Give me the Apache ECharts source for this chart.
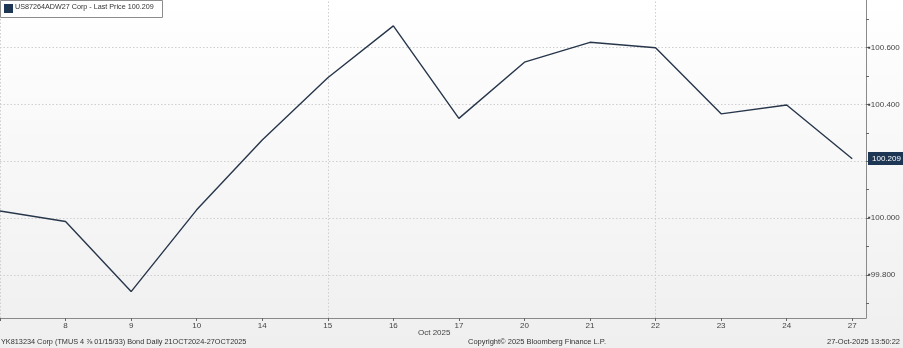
<!DOCTYPE html>
<html>
<head>
<meta charset="utf-8">
<script src="https://cdn.jsdelivr.net/npm/echarts@6/dist/echarts.min.js"></script>
<style>
html,body{margin:0;padding:0;}
#c{width:903px;height:348px;}
</style>
</head>
<body>
<div id="c"></div>
<script>
var categories = ['7','8','9','10','14','15','16','17','20','21','22','23','24','27'];
var prices = [100.025, 99.988, 99.741, 100.029, 100.275, 100.494, 100.677, 100.351, 100.549, 100.619, 100.600, 100.367, 100.398, 100.209];
var yLabelTicks = [99.8, 100.0, 100.4, 100.6];
var yMinorTicks = [99.7, 99.8, 99.9, 100.0, 100.1, 100.2, 100.3, 100.4, 100.5, 100.6, 100.7];
var yGridValues = [99.8, 100.0, 100.2, 100.4, 100.6];
var xGridIndices = [0, 5, 10];
var lastPrice = 100.209;
var legendText = 'US87264ADW27 Corp - Last Price 100.209';
var footerLeft = 'YK813234 Corp (TMUS 4 \u215E 01/15/33) Bond Daily 21OCT2024-27OCT2025';
var footerMid = 'Copyright\u00A9 2025 Bloomberg Finance L.P.';
var footerRight = '27-Oct-2025 13:50:22';
var monthLabel = 'Oct 2025';

var points = prices.map(function(v, i){ return [i, v]; });
var font = '"Liberation Sans", Arial, sans-serif';

var chart = echarts.init(document.getElementById('c'), null, {renderer:'canvas'});
var gridLines = yGridValues.map(function(v){ return {yAxis: v}; })
  .concat(xGridIndices.map(function(i){ return {xAxis: i}; }));

chart.setOption({
  animation: false,
  backgroundColor: new echarts.graphic.LinearGradient(0,0,0,1,[
    {offset:0,color:'#ffffff'},{offset:1,color:'#efefef'}]),
  grid: {left: 0, top: 0, width: 866, height: 318, containLabel: false, outerBoundsMode: 'none'},
  xAxis: {
    type: 'value', min: 0, max: 13.21, interval: 1,
    axisLine: {show: true, onZero: false, lineStyle: {color: '#8a8a8a', width: 1}},
    axisTick: {show: true, length: 3, lineStyle: {color: '#666'}},
    axisLabel: {
      color: '#444', fontSize: 8, fontFamily: font, margin: 4,
      showMaxLabel: false,
      formatter: function(v){ return (v > 0 && v < categories.length && v % 1 === 0) ? categories[v] : ''; }
    },
    splitLine: {show: false}
  },
  yAxis: {
    type: 'value', position: 'right', min: 99.648, max: 100.768,
    axisLine: {show: true, onZero: false, lineStyle: {color: '#8a8a8a', width: 1}},
    axisTick: {show: true, length: 3, customValues: yMinorTicks, lineStyle: {color: '#666'}},
    axisLabel: {
      color: '#444', fontSize: 8, fontFamily: font, margin: 2,
      customValues: yLabelTicks,
      formatter: function(v){ return '\u25AA' + v.toFixed(3); }
    },
    splitLine: {show: false}
  },
  series: [{
    type: 'line',
    data: [],
    z: 1,
    markLine: {
      silent: true, symbol: 'none', animation: false,
      lineStyle: {color: '#cfcfcf', type: [1.5, 2], width: 1},
      label: {show: false},
      data: gridLines
    }
  }, {
    type: 'line',
    data: points,
    zlevel: 1,
    z: 3,
    symbol: 'none',
    lineStyle: {color: '#27364a', width: 1.4},
    markLine: {
      silent: true, symbol: 'none', animation: false,
      data: [{
        yAxis: lastPrice,
        lineStyle: {color: 'rgba(0,0,0,0)', width: 0},
        label: {
          show: true, position: 'end', distance: 2,
          formatter: lastPrice.toFixed(3),
          color: '#ffffff', backgroundColor: '#1d3654',
          fontSize: 8, fontFamily: font,
          padding: [3, 3, 2, 4]
        }
      }]
    }
  }],
  graphic: [
    {type:'rect', left: 0, top: 0, shape:{width:162, height:17},
     style:{fill:'#ffffff', stroke:'#8c8c8c', lineWidth:1}, z: 10},
    {type:'rect', left: 4, top: 4, shape:{width:9, height:9},
     style:{fill:'#1d3654'}, z: 11},
    {type:'text', left: 15, top: 4, z: 11,
     style:{text: legendText, fill:'#333', font: '7.2px ' + font}},
    {type:'text', left: 418, top: 329,
     style:{text: monthLabel, fill:'#444', font: '8px ' + font}},
    {type:'text', left: 1, top: 338,
     style:{text: footerLeft, fill:'#333', font: '7.3px ' + font}},
    {type:'text', left: 468, top: 338,
     style:{text: footerMid, fill:'#333', font: '7.5px ' + font}},
    {type:'text', right: 3, top: 338,
     style:{text: footerRight, fill:'#333', font: '7.5px ' + font}}
  ]
});
</script>
</body>
</html>
